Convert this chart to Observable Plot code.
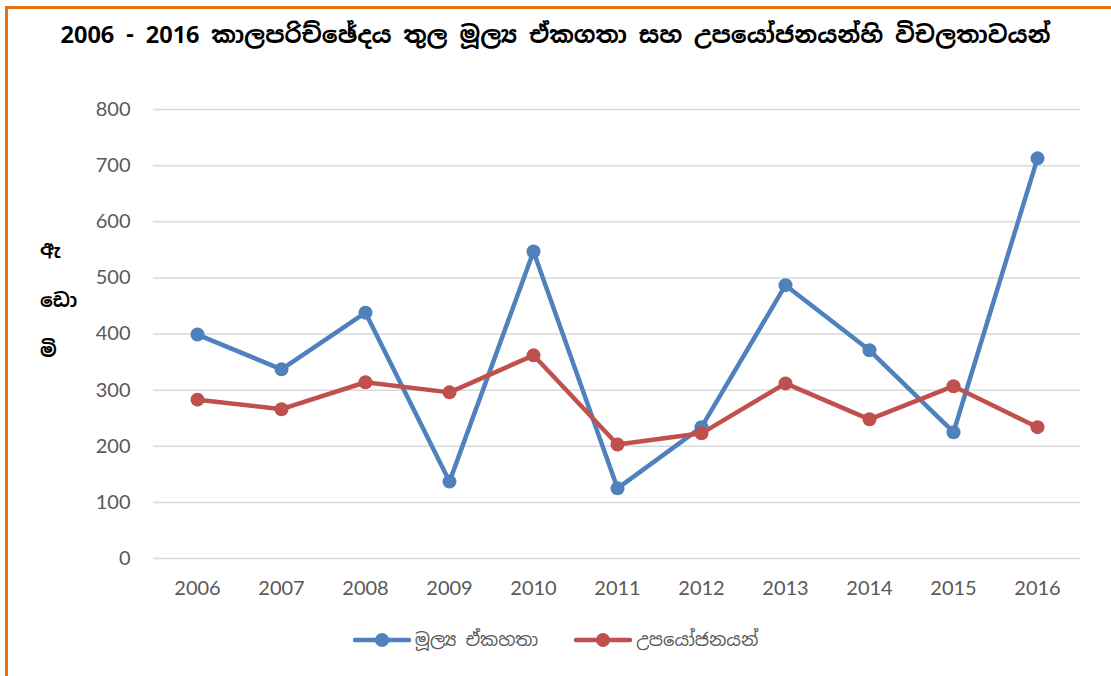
<!DOCTYPE html>
<html>
<head>
<meta charset="utf-8">
<script src="https://cdn.jsdelivr.net/npm/d3@7"></script>
<script src="https://cdn.jsdelivr.net/npm/@observablehq/plot@0.6"></script>
<style>
  html, body { margin: 0; padding: 0; background: #fff; }
  body { width: 1111px; height: 676px; position: relative; overflow: hidden; font-family: Lato, "Noto Sans", sans-serif; }
  #frame { position: absolute; left: 5px; top: 6px; width: 1200px; height: 800px; border-top: 3px solid #E8710F; border-left: 3px solid #E8710F; box-sizing: border-box; }
  #title { position: absolute; left: 0; width: 1111px; top: 19px; text-align: center; font-size: 23.5px; font-weight: bold; color: #000; font-family: "Noto Sans Sinhala", "Noto Sans", sans-serif; }
  #chart { position: absolute; left: 0; top: 0; }
  .ylab { position: absolute; left: 40px; font-size: 19px; font-weight: bold; color: #000; font-family: "Noto Sans Sinhala", "Noto Sans", sans-serif; }
  #legend { position: absolute; top: 628px; left: 0; width: 1111px; display: flex; justify-content: center; gap: 36px; font-size: 18px; color: #595959; font-family: "Noto Sans Sinhala", "Noto Sans", sans-serif; }
  .item { display: flex; align-items: center; gap: 4px; }
</style>
</head>
<body>
<div id="frame"></div>
<div id="chart"></div>
<div id="title"></div>
<div id="legend"></div>
<script>
const years = ["2006","2007","2008","2009","2010","2011","2012","2013","2014","2015","2016"];
const seriesNames = ["මූල්‍ය ඒකහතා", "උපයෝජනයන්"];
const financialValues = [399, 337, 438, 137, 547, 125, 234, 487, 371, 225, 713];
const utilizationValues = [283, 266, 314, 296, 362, 203, 223, 312, 248, 307, 234];
const yTicks = [0, 100, 200, 300, 400, 500, 600, 700, 800];
const titleText = "2006 - 2016 කාලපරිච්ඡේදය තුල මූල්‍ය ඒකගතා සහ උපයෝජනයන්හි විචලතාවයන්";
const yLabelParts = ["ඇ", "ඩො", "මි"];
const colors = ["#4F81BD", "#C0504D"];

const data = [];
years.forEach((y, i) => {
  data.push({year: y, value: financialValues[i], series: seriesNames[0]});
  data.push({year: y, value: utilizationValues[i], series: seriesNames[1]});
});

const plot = Plot.plot({
  width: 1111,
  height: 620,
  marginTop: 109,
  marginBottom: 62,
  marginLeft: 153,
  marginRight: 31,
  style: { fontFamily: "Lato, 'Open Sans', sans-serif", fontSize: "20px", color: "#595959", background: "transparent" },
  x: { type: "point", domain: years, padding: 0.5, label: null, tickSize: 0, tickPadding: 22 },
  y: { domain: [0, 800], ticks: yTicks, label: null, tickSize: 0, tickPadding: 23 },
  color: { domain: seriesNames, range: colors },
  marks: [
    Plot.gridY(yTicks, { stroke: "#d9d9d9", strokeOpacity: 1, strokeWidth: 1.5 }),
    Plot.line(data, { x: "year", y: "value", z: "series", stroke: "series", strokeWidth: 4.5, strokeLinejoin: "round" }),
    Plot.dot(data, { x: "year", y: "value", fill: "series", r: 7 })
  ]
});
document.getElementById("chart").appendChild(plot);

document.getElementById("title").textContent = titleText;

const ylTops = [236, 288, 338];
yLabelParts.forEach((t, i) => {
  const d = document.createElement("div");
  d.className = "ylab";
  d.style.top = ylTops[i] + "px";
  d.textContent = t;
  document.body.appendChild(d);
});

const legend = document.getElementById("legend");
seriesNames.forEach((name, i) => {
  const item = document.createElement("div");
  item.className = "item";
  item.innerHTML = `<svg width="58" height="16"><line x1="2" y1="8" x2="56" y2="8" stroke="${colors[i]}" stroke-width="4.5" stroke-linecap="round"/><circle cx="29" cy="8" r="7" fill="${colors[i]}"/></svg><span>${name}</span>`;
  legend.appendChild(item);
});
</script>
</body>
</html>
